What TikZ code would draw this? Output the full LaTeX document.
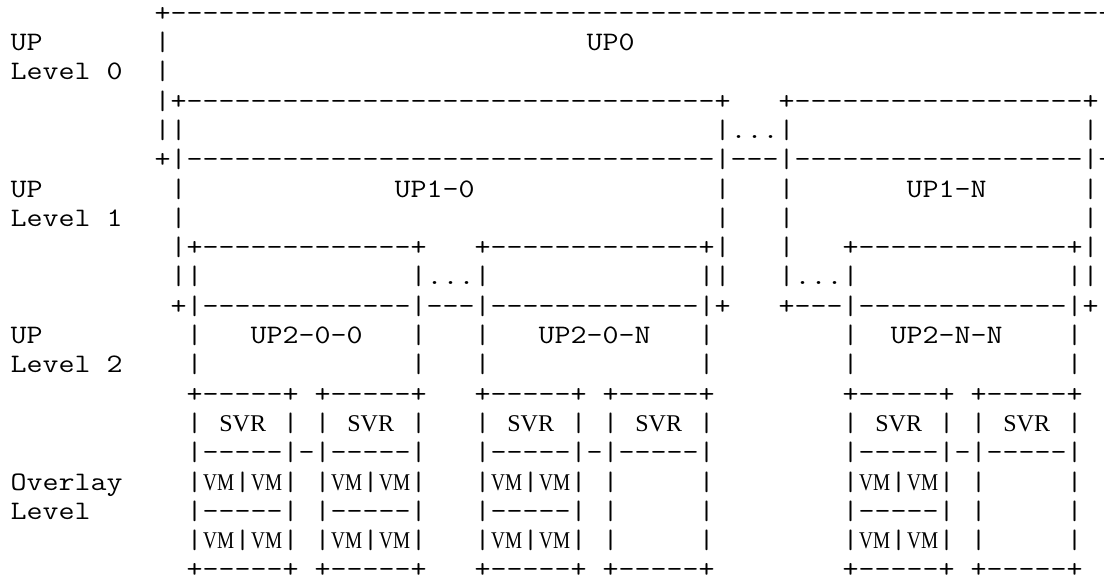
\documentclass[tikz,border=0pt]{standalone}
\usepackage{fontspec}
\usepackage{graphicx}
\newfontfamily\vmserif{Liberation Serif}
\newcommand\dten{----------}
\newcommand\monofnt{\ttfamily\fontsize{13.333pt}{14.65pt}\selectfont}
% width of one cell of the mono font, measured, then stretched to 8pt
\newlength\cwd
\settowidth\cwd{\monofnt M}
\pgfmathsetmacro\cellsx{8/\cwd}
\pgfmathsetmacro\vmsx{0.8/\cellsx}
\pgfmathsetmacro\svrsx{1/\cellsx}
\newcommand\vmb{\makebox[2\cwd][c]{\vmserif\fontsize{12pt}{12pt}\selectfont\scalebox{\vmsx}[1]{VM}}}
\newcommand\svrb{\makebox[3\cwd][c]{\vmserif\fontsize{12pt}{12pt}\selectfont\scalebox{\svrsx}[1]{SVR}}}
\tikzset{txt/.style={anchor=base west, inner sep=0pt, outer sep=0pt, font=\monofnt}}
\newcommand\seg[3]{\node[txt] (r#2c#1) at (#1,#2) {\scalebox{\cellsx}[1]{#3}};}
\begin{document}
\begin{tikzpicture}[x=8pt,y=-14.65pt]
\useasboundingbox (0pt,0pt) rectangle (552pt,-289.5pt);
\clip (0pt,0pt) rectangle (552pt,-289.5pt);
\begin{scope}[shift={(5.35pt,-10.6pt)}]
% Level 0
\seg{9}{0}{+\dten\dten\dten\dten\dten--------+}
\seg{0}{1}{UP}\seg{9}{1}{|}\seg{36}{1}{UP0}
\seg{0}{2}{Level 0}\seg{9}{2}{|}
\seg{9}{3}{|+\dten\dten\dten---+}\seg{48}{3}{+\dten--------+}
\seg{9}{4}{||}\seg{44}{4}{|...|}\seg{67}{4}{|}
\seg{9}{5}{+|\dten\dten\dten---|---|\dten--------|+}
% Level 1
\seg{0}{6}{UP}\seg{10}{6}{|}\seg{24}{6}{UP1-0}\seg{44}{6}{|}\seg{48}{6}{|}\seg{56}{6}{UP1-N}\seg{67}{6}{|}
\seg{0}{7}{Level 1}\seg{10}{7}{|}\seg{44}{7}{|}\seg{48}{7}{|}\seg{67}{7}{|}
\seg{10}{8}{|+\dten---+}\seg{29}{8}{+\dten---+|}\seg{48}{8}{|}\seg{52}{8}{+\dten---+|}
\seg{10}{9}{||}\seg{25}{9}{|...|}\seg{43}{9}{||}\seg{48}{9}{|...|}\seg{66}{9}{||}
\seg{10}{10}{+|\dten---|---|\dten---|+}\seg{48}{10}{+---|\dten---|+}
% Level 2
\seg{0}{11}{UP}\seg{11}{11}{|}\seg{15}{11}{UP2-0-0}\seg{25}{11}{|}\seg{29}{11}{|}\seg{33}{11}{UP2-0-N}\seg{43}{11}{|}\seg{52}{11}{|}\seg{55}{11}{UP2-N-N}\seg{66}{11}{|}
\seg{0}{12}{Level 2}\seg{11}{12}{|}\seg{25}{12}{|}\seg{29}{12}{|}\seg{43}{12}{|}\seg{52}{12}{|}\seg{66}{12}{|}
% Overlay level
\seg{11}{13}{+-----+}\seg{19}{13}{+-----+}\seg{29}{13}{+-----+}\seg{37}{13}{+-----+}\seg{52}{13}{+-----+}\seg{60}{13}{+-----+}
\seg{11}{14}{|}\seg{13}{14}{\svrb}\seg{17}{14}{|}\seg{19}{14}{|}\seg{21}{14}{\svrb}\seg{25}{14}{|}
\seg{29}{14}{|}\seg{31}{14}{\svrb}\seg{35}{14}{|}\seg{37}{14}{|}\seg{39}{14}{\svrb}\seg{43}{14}{|}
\seg{52}{14}{|}\seg{54}{14}{\svrb}\seg{58}{14}{|}\seg{60}{14}{|}\seg{62}{14}{\svrb}\seg{66}{14}{|}
\seg{11}{15}{|-----|-|-----|}\seg{29}{15}{|-----|-|-----|}\seg{52}{15}{|-----|-|-----|}
\seg{0}{16}{Overlay}\seg{11}{16}{|\vmb|\vmb|}\seg{19}{16}{|\vmb|\vmb|}\seg{29}{16}{|\vmb|\vmb|}\seg{37}{16}{|}\seg{43}{16}{|}\seg{52}{16}{|\vmb|\vmb|}\seg{60}{16}{|}\seg{66}{16}{|}
\seg{0}{17}{Level}\seg{11}{17}{|-----|}\seg{19}{17}{|-----|}\seg{29}{17}{|-----|}\seg{37}{17}{|}\seg{43}{17}{|}\seg{52}{17}{|-----|}\seg{60}{17}{|}\seg{66}{17}{|}
\seg{11}{18}{|\vmb|\vmb|}\seg{19}{18}{|\vmb|\vmb|}\seg{29}{18}{|\vmb|\vmb|}\seg{37}{18}{|}\seg{43}{18}{|}\seg{52}{18}{|\vmb|\vmb|}\seg{60}{18}{|}\seg{66}{18}{|}
\seg{11}{19}{+-----+}\seg{19}{19}{+-----+}\seg{29}{19}{+-----+}\seg{37}{19}{+-----+}\seg{52}{19}{+-----+}\seg{60}{19}{+-----+}
\end{scope}
\end{tikzpicture}
\end{document}
